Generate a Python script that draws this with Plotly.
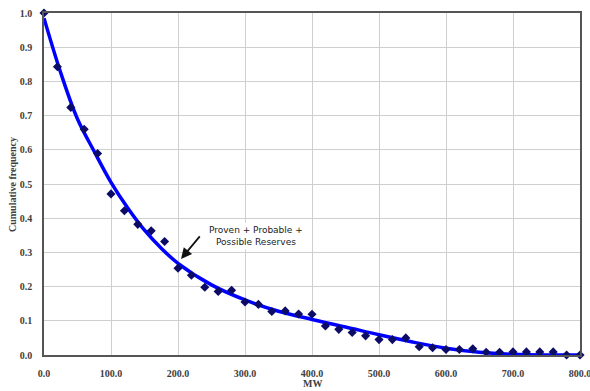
import plotly.graph_objects as go

# Observed cumulative frequency of MW capacity, sampled every 20 MW
mw = [0, 20, 40, 60, 80, 100, 120, 140, 160, 180, 200, 220, 240, 260, 280,
      300, 320, 340, 360, 380, 400, 420, 440, 460, 480, 500, 520, 540, 560,
      580, 600, 620, 640, 660, 680, 700, 720, 740, 760, 780, 800]
cum_freq = [1.000, 0.843, 0.724, 0.660, 0.589, 0.471, 0.422, 0.382, 0.363,
            0.332, 0.254, 0.233, 0.198, 0.186, 0.189, 0.155, 0.148, 0.127,
            0.129, 0.120, 0.119, 0.085, 0.075, 0.066, 0.056, 0.045, 0.045,
            0.050, 0.024, 0.021, 0.016, 0.016, 0.018, 0.008, 0.008, 0.009,
            0.009, 0.009, 0.009, 0.000, 0.000]

# Fitted trend curve
fit_mw = [0, 25, 50, 75, 100, 125, 150, 175, 200, 250, 300, 350, 400, 450,
          500, 550, 600, 650, 700, 750, 800]
fit_freq = [0.985, 0.825, 0.690, 0.595, 0.505, 0.430, 0.365, 0.312, 0.268,
            0.205, 0.161, 0.128, 0.104, 0.082, 0.059, 0.038, 0.020, 0.008,
            0.002, 0.000, 0.000]

x_ticks = [0, 100, 200, 300, 400, 500, 600, 700, 800]
y_ticks = [0.0, 0.1, 0.2, 0.3, 0.4, 0.5, 0.6, 0.7, 0.8, 0.9, 1.0]

label_text = "Proven + Probable +<br>Possible Reserves"
arrow_target = (204.5, 0.281)
label_pos = (316.0, 0.348)

tick_font = dict(family="Liberation Serif", size=10, color="#404040", weight="bold")

fig = go.Figure()
fig.add_trace(go.Scatter(
    x=fit_mw, y=fit_freq, mode="lines", line=dict(color="#0000ff", width=3.5, shape="spline"),
    hoverinfo="skip", showlegend=False, cliponaxis=False,
))
fig.add_trace(go.Scatter(
    x=mw, y=cum_freq, mode="markers",
    marker=dict(symbol="diamond", size=7, color="#0c0c66"),
    showlegend=False, cliponaxis=False,
))

fig.update_layout(
    width=590, height=391,
    margin=dict(l=44, r=10, t=13, b=36),
    paper_bgcolor="white", plot_bgcolor="white",
    showlegend=False,
)
fig.update_xaxes(
    range=[0, 800], tickvals=x_ticks, tickformat=".1f", tickfont=tick_font,
    showgrid=True, gridcolor="#cfcfcf", gridwidth=1, zeroline=False,
    showline=True, linecolor="#555555", linewidth=1.5, mirror=True,
    ticks="", ticklabelstandoff=8, automargin=False, ticklabeloverflow="allow",
)
fig.update_yaxes(
    range=[0, 1.0], tickvals=y_ticks, tickformat=".1f", tickfont=tick_font,
    showgrid=True, gridcolor="#cfcfcf", gridwidth=1, zeroline=False,
    showline=True, linecolor="#555555", linewidth=1.5, mirror=True,
    ticks="", ticklabelstandoff=8, automargin=False, ticklabeloverflow="allow",
)

# Axis titles
fig.add_annotation(
    text="Cumulative frequency", xref="paper", yref="paper", x=-0.0597, y=0.497,
    textangle=-90, showarrow=False, xanchor="center", yanchor="middle",
    font=dict(family="Liberation Serif", size=10, color="#404040", weight="bold"),
)
fig.add_annotation(
    text="MW", xref="paper", yref="paper", x=0.5, y=-0.083,
    showarrow=False, xanchor="center", yanchor="middle",
    font=dict(family="Liberation Serif", size=10, color="#404040", weight="bold"),
)

# Callout
fig.add_annotation(
    x=label_pos[0], y=label_pos[1], text=label_text, showarrow=False,
    font=dict(family="DejaVu Sans", size=9, color="#222222"),
    bgcolor="white", borderpad=2, align="center",
)
fig.add_annotation(
    x=arrow_target[0], y=arrow_target[1], text="", showarrow=True,
    ax=20, ay=-24, arrowhead=2, arrowsize=1.2, arrowwidth=1.8, arrowcolor="#111111",
)

fig.write_html("out.html")
